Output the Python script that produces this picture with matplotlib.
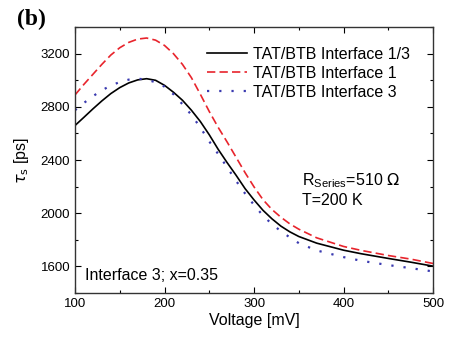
import matplotlib
matplotlib.use('Agg')
import matplotlib.pyplot as plt
from matplotlib.ticker import MultipleLocator

plt.rcParams['font.family'] = ['Liberation Sans', 'DejaVu Sans']
plt.rcParams['mathtext.fontset'] = 'dejavusans'

# voltages [mV] and tau_s [ps]
volt = [100, 110, 120, 130, 140, 150, 160, 170, 180, 190, 200, 210, 220, 230,
        240, 250, 260, 270, 280, 290, 300, 310, 320, 330, 340, 350, 370, 400,
        420, 450, 475, 500]

tau_13 = [2660, 2722, 2785, 2845, 2900, 2945, 2980, 3003, 3012, 3000, 2962,
          2910, 2850, 2775, 2690, 2590, 2480, 2380, 2285, 2185, 2100, 2022,
          1958, 1903, 1860, 1825, 1775, 1722, 1695, 1660, 1632, 1602]

tau_1 = [2890, 2970, 3045, 3120, 3190, 3245, 3285, 3310, 3318, 3302, 3262,
         3200, 3120, 3020, 2895, 2765, 2645, 2535, 2420, 2305, 2198, 2102,
         2028, 1970, 1920, 1880, 1815, 1750, 1720, 1682, 1655, 1622]

tau_3 = [2775, 2830, 2880, 2925, 2960, 2987, 3005, 3012, 3005, 2985, 2952,
         2895, 2820, 2740, 2645, 2540, 2445, 2345, 2243, 2148, 2062, 1982,
         1918, 1865, 1818, 1775, 1720, 1670, 1642, 1610, 1587, 1562]

labels = ['TAT/BTB Interface 1/3', 'TAT/BTB Interface 1', 'TAT/BTB Interface 3']

fig = plt.figure(figsize=(4.53, 3.39), dpi=100)
ax = fig.add_axes([0.1656, 0.1357, 0.7904, 0.7843])

ax.plot(volt, tau_13, color='black', lw=1.2, label=labels[0])
ax.plot(volt, tau_1, color='#e8242c', lw=1.2, linestyle=(0, (5, 2.5)), label=labels[1])
ax.plot(volt, tau_3, color='#3a3ab0', lw=1.6, linestyle=(0, (1, 4.5)),
        dash_capstyle='butt', label=labels[2])

ax.set_xlim(100, 500)
ax.set_ylim(1400, 3400)
ax.xaxis.set_major_locator(MultipleLocator(100))
ax.xaxis.set_minor_locator(MultipleLocator(50))
ax.yaxis.set_major_locator(MultipleLocator(400))
ax.yaxis.set_minor_locator(MultipleLocator(200))
ax.tick_params(which='both', direction='in', top=True, right=True, labelsize=9.5)
ax.tick_params(which='major', length=4, width=0.8)
ax.tick_params(which='minor', length=2.5, width=0.8)
for s in ax.spines.values():
    s.set_linewidth(1.0)
    s.set_color('#333333')

ax.set_xlabel('Voltage [mV]', fontsize=11.5, labelpad=2)
ax.set_ylabel(r'$\tau_{\rm s}$ [ps]', fontsize=11.5, labelpad=7)

ax.legend(loc='upper left', frameon=False, fontsize=11.5, handlelength=2.5,
          handletextpad=0.35, labelspacing=0.24, borderaxespad=0, borderpad=0,
          bbox_to_anchor=(0.369, 0.925))

ax.text(354, 2212, r'R$_{\mathregular{Series}}$=510 $\Omega$', fontsize=11.5)
ax.text(354, 2062, 'T=200 K', fontsize=11.5)
ax.text(111, 1500, 'Interface 3; x=0.35', fontsize=11.5)

fig.text(0.038, 0.925, '(b)', fontsize=17, fontweight='bold', family='Liberation Serif')

fig.savefig('out.png', dpi=100)
